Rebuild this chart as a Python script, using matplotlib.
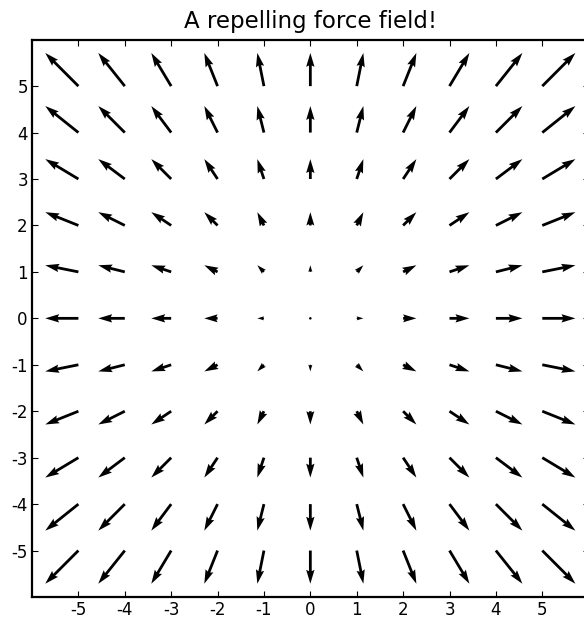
import matplotlib
matplotlib.use("Agg")
import matplotlib.pyplot as plt
import numpy as np

plt.rcParams['axes.unicode_minus'] = False

# grid positions and the force components
grid_x = [-5, -4, -3, -2, -1, 0, 1, 2, 3, 4, 5]
grid_y = [-5, -4, -3, -2, -1, 0, 1, 2, 3, 4, 5]
force_u = [-5, -4, -3, -2, -1, 0, 1, 2, 3, 4, 5]   # x-component along a row
force_v = [-5, -4, -3, -2, -1, 0, 1, 2, 3, 4, 5]   # y-component along a column
tick_vals = [-5, -4, -3, -2, -1, 0, 1, 2, 3, 4, 5]

X, Y = np.meshgrid(grid_x, grid_y)
U, V = np.meshgrid(force_u, force_v)

fig = plt.figure(figsize=(5.84, 6.2), dpi=100)
ax = fig.add_axes([0.0548, 0.0371, 0.9532, 0.8989])

ax.quiver(X, Y, U, V, angles='xy', scale_units='xy', scale=7.0,
          color='black', width=0.005)

ax.set_xlim(-6, 6)
ax.set_ylim(-6, 6)
ax.set_xticks(tick_vals)
ax.set_yticks(tick_vals)
ax.tick_params(direction='in', length=4, width=0.8, top=True, right=True,
               labelsize=12, pad=3)
for s in ax.spines.values():
    s.set_linewidth(1.6)

ax.set_title("A repelling force field!", fontsize=16.5, pad=8.5)

fig.savefig("out.png", dpi=100)
